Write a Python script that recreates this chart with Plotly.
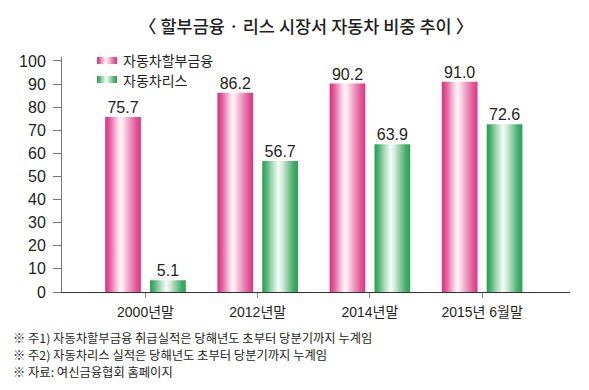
import plotly.graph_objects as go

# ---- data ----
categories = ["2000년말", "2012년말", "2014년말", "2015년 6월말"]
installment = [75.7, 86.2, 90.2, 91.0]   # 자동차할부금융
lease = [5.1, 56.7, 63.9, 72.6]          # 자동차리스
series_names = ["자동차할부금융", "자동차리스"]
y_tick_values = [0, 10, 20, 30, 40, 50, 60, 70, 80, 90, 100]
title_text = "〈 할부금융 · 리스 시장서 자동차 비중 추이 〉"
footnotes = [
    "※ 주1) 자동차할부금융 취급실적은 당해년도 초부터 당분기까지 누계임",
    "※ 주2) 자동차리스 실적은 당해년도 초부터 당분기까지 누계임",
    "※ 자료: 여신금융협회 홈페이지",
]

# ---- layout (screen pixels; page body has an 8px margin) ----
PAGE_OFF = 8
SCR_W, SCR_H = 589, 390
PL, PR, PT, PB = 62, 570, 57, 292          # plot area on screen
FW, FH = SCR_W - PAGE_OFF, SCR_H - PAGE_OFF
ML, MR, MT, MB = PL - PAGE_OFF, SCR_W - PR, PT - PAGE_OFF, SCR_H - PB


def px(x):
    return (x - PL) / (PR - PL)


def py(y):
    return (PB - y) / (PB - PT)


FONT = "Liberation Sans, Arial, Noto Sans CJK KR, sans-serif"
KFONT = "Noto Sans CJK KR, Liberation Sans, sans-serif"
TXT = "#231f20"
pink_cs = [[0, "#dc2d7f"], [0.12, "#e4589b"], [0.28, "#f2afcd"], [0.42, "#fff5f9"],
           [0.5, "#fbe3ee"], [0.68, "#ee9cc2"], [0.86, "#e35a98"], [1, "#dc3584"]]
green_cs = [[0, "#1f9e4f"], [0.12, "#52b577"], [0.28, "#a9dbb8"], [0.45, "#f5fbf6"],
            [0.55, "#d9efdf"], [0.72, "#8ccca0"], [0.88, "#3fae68"], [1, "#25a356"]]
BAR_W = 0.318
OFFSETS = [-0.2, 0.2]

fig = go.Figure()

series = [installment, lease]
scales = [pink_cs, green_cs]
for s, (vals, cs, off) in enumerate(zip(series, scales, OFFSETS)):
    for i, v in enumerate(vals):
        c = i + off
        x0, x1 = c - BAR_W / 2, c + BAR_W / 2
        fig.add_trace(go.Scatter(
            x=[x0, x1, x1, x0, x0], y=[0, 0, v, v, 0],
            mode="lines", line=dict(width=0, color="rgba(0,0,0,0)"),
            fill="toself",
            fillgradient=dict(type="horizontal", colorscale=cs),
            hoverinfo="skip", showlegend=False,
        ))
    fig.add_trace(go.Scatter(
        x=[i + off for i in range(len(vals))], y=vals,
        mode="text", text=[f"{v:.1f}" for v in vals],
        textposition="top center",
        textfont=dict(family=FONT, size=16, color=TXT),
        cliponaxis=False, showlegend=False, hoverinfo="skip",
    ))

# ---- legend (pixel overlay axes) ----
leg_y = [60.5, 79.5]
for name, cs, ly in zip(series_names, scales, leg_y):
    fig.add_trace(go.Scatter(
        x=[97, 117, 117, 97, 97], y=[ly - 3.5, ly - 3.5, ly + 3.5, ly + 3.5, ly - 3.5],
        xaxis="x2", yaxis="y2",
        mode="lines", line=dict(width=0, color="rgba(0,0,0,0)"),
        fill="toself", fillgradient=dict(type="horizontal", colorscale=cs),
        hoverinfo="skip", showlegend=False,
    ))
    fig.add_annotation(x=px(121), y=py(ly), xref="paper", yref="paper", text=name,
                       showarrow=False, xanchor="left", yanchor="middle",
                       font=dict(family=KFONT, size=14, color=TXT))

# ---- title & footnotes ----
fig.add_annotation(x=px(306), y=py(25), xref="paper", yref="paper", text=title_text,
                   showarrow=False, xanchor="center", yanchor="middle",
                   font=dict(family=KFONT, size=17.5, color=TXT, weight=500))
for k, t in enumerate(footnotes):
    fig.add_annotation(x=px(11), y=py(338 + 17 * k), xref="paper", yref="paper", text=t,
                       showarrow=False, xanchor="left", yanchor="middle",
                       font=dict(family=KFONT, size=12.3, color=TXT))

fig.update_layout(
    width=FW, height=FH,
    margin=dict(l=ML, r=MR, t=MT, b=MB, autoexpand=False),
    paper_bgcolor="white", plot_bgcolor="white",
    showlegend=False,
    xaxis=dict(range=[-0.744, 3.783], tickmode="array", tickvals=list(range(len(categories))),
               ticktext=categories, showgrid=False, zeroline=False,
               showline=True, linecolor="#333333", linewidth=1,
               ticks="outside", ticklen=5, tickcolor="#888888", tickwidth=1,
               tickfont=dict(family=FONT, size=14, color=TXT), ticklabelstandoff=2),
    yaxis=dict(range=[0, 101.7], tickmode="array", tickvals=y_tick_values,
               showgrid=False, zeroline=False,
               showline=True, linecolor="#777777", linewidth=1,
               ticks="outside", ticklen=8, tickcolor="#777777", tickwidth=1,
               tickfont=dict(family=FONT, size=16, color=TXT), ticklabelstandoff=4),
    xaxis2=dict(overlaying="x", range=[PL, PR], visible=False, anchor="y2"),
    yaxis2=dict(overlaying="y", range=[PB, PT], visible=False, anchor="x2"),
)

fig.write_html("out.html")
